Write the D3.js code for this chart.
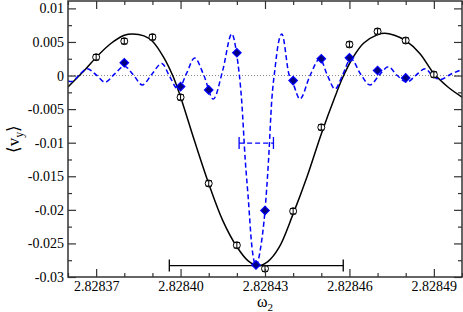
<!DOCTYPE html>
<html>
<head>
<meta charset="utf-8">
<script src="https://cdn.jsdelivr.net/npm/d3@7"></script>
<style>
  body { margin: 0; background: #fff; }
  svg, text { font-family: "Liberation Serif", "Times New Roman", serif; }
</style>
</head>
<body>
<svg id="chart" width="463" height="312"></svg>
<script>
// measured points, black open circles
var simX = [2.82837, 2.82838, 2.82839, 2.82840, 2.82841, 2.82842, 2.82843,
            2.82844, 2.82845, 2.82846, 2.82847, 2.82848, 2.82849];
var simY = [0.00273, 0.00512, 0.00572, -0.00324, -0.01607, -0.02527, -0.02876,
            -0.0202, -0.00771, 0.00463, 0.00657, 0.00522, 0.00015];
var simErr = [0.0004, 0.0004, 0.0004, 0.0004, 0.0004, 0.0004, 0.0004,
              0.0004, 0.0004, 0.0004, 0.0004, 0.0004, 0.0004];

// blue filled points
var dotX = [2.82838, 2.82840, 2.82841, 2.82842, 2.8284268, 2.82843,
            2.82844, 2.82845, 2.82846, 2.82847, 2.82848];
var dotY = [0.0019, -0.00164, -0.00214, 0.00339, -0.0282, -0.0201,
            -0.00075, 0.0025, 0.00264, 0.00075, -0.00035];

// black solid curve
var fitX = [2.8283600, 2.8283650, 2.8283700, 2.8283750, 2.8283800, 2.8283830, 2.8283870,
            2.8283900, 2.8283940, 2.8283975, 2.8284000, 2.8284050, 2.8284100, 2.8284150,
            2.8284200, 2.8284240, 2.8284275, 2.8284310, 2.8284350, 2.8284400, 2.8284450,
            2.8284500, 2.8284550, 2.8284575, 2.8284610, 2.8284650, 2.8284700, 2.8284725,
            2.8284760, 2.8284800, 2.8284850, 2.8284900, 2.8284950, 2.8285000];
var fitY = [-0.0017, 0.0004, 0.0027, 0.0047, 0.0060, 0.0062, 0.0059,
            0.0051, 0.0027, -0.0003, -0.0032, -0.0098, -0.0161, -0.0216,
            -0.0255, -0.0276, -0.0283, -0.0277, -0.0256, -0.0206, -0.0150,
            -0.0087, -0.0030, -0.0004, 0.0025, 0.0048, 0.0061, 0.0063,
            0.0060, 0.0052, 0.0033, 0.0003, -0.0017, -0.0032];

// blue dashed curve
var oscX = [2.8283600, 2.8283612, 2.8283640, 2.8283668, 2.8283700, 2.8283732, 2.8283765,
            2.8283800, 2.8283832, 2.8283864, 2.8283898, 2.8283933, 2.8283962, 2.8283992,
            2.8284020, 2.8284050, 2.8284083, 2.8284116, 2.8284150, 2.8284182, 2.8284200,
            2.8284217, 2.8284230, 2.8284240, 2.8284253, 2.8284268, 2.8284285, 2.8284300,
            2.8284312, 2.8284324, 2.8284336, 2.8284347, 2.8284360, 2.8284385, 2.8284400,
            2.8284424, 2.8284460, 2.8284495, 2.8284522, 2.8284549, 2.8284575, 2.8284605,
            2.8284640, 2.8284673, 2.8284705, 2.8284738, 2.8284770, 2.8284804, 2.8284835,
            2.8284869, 2.8284895, 2.8284922, 2.8284960, 2.8285000];
var oscY = [-0.0008, -0.0009, 0.0001, 0.0010, 0.0001, -0.0010, 0.0002,
            0.0014, 0.0001, -0.0014, 0.0002, 0.0018, -0.0002, -0.0021,
            0.0002, 0.0026, 0.0000, -0.0035, 0.0008, 0.0062, 0.0030,
            -0.0037, -0.0127, -0.0180, -0.0253, -0.0283, -0.0255, -0.0201,
            -0.0130, -0.0037, 0.0012, 0.0047, 0.0062, 0.0002, -0.0012,
            -0.0035, 0.0000, 0.0025, 0.0000, -0.0020, 0.0000, 0.0025,
            0.0002, -0.0014, 0.0000, 0.0013, 0.0000, -0.0010, 0.0000,
            0.0010, 0.0000, -0.0006, 0.0002, 0.0009];

// horizontal error bars: [black, blue]
var barX = [2.8284269, 2.8284269];
var barY = [-0.0283, -0.01005];
var barErr = [0.0000309, 0.0000061];

var xMajor = [2.82837, 2.82840, 2.82843, 2.82846, 2.82849];
var xMinor = [2.82836, 2.82838, 2.82839, 2.82841, 2.82842, 2.82844,
              2.82845, 2.82847, 2.82848, 2.82850];
var yMajor = [-0.03, -0.025, -0.02, -0.015, -0.01, -0.005, 0, 0.005, 0.01];
var yMinor = [-0.0275, -0.0225, -0.0175, -0.0125, -0.0075, -0.0025,
              0.0025, 0.0075];

var plotL = 68, plotR = 462, plotT = 1, plotB = 277;

var svg = d3.select('#chart');

var x = d3.scaleLinear().domain([2.82836, 2.82850]).range([plotL, plotR]);
var y = d3.scaleLinear().domain([-0.03, 0.0111]).range([plotB, plotT]);

svg.append('clipPath').attr('id', 'plot-clip')
  .append('rect')
    .attr('x', plotL).attr('y', plotT)
    .attr('width', plotR - plotL).attr('height', plotB - plotT);

// zero line
svg.append('line')
  .attr('x1', plotL).attr('x2', plotR)
  .attr('y1', y(0)).attr('y2', y(0))
  .attr('stroke', '#888')
  .attr('stroke-width', 1)
  .attr('stroke-dasharray', '1,2');

var plot = svg.append('g').attr('clip-path', 'url(#plot-clip)');

// black curve
plot.append('path')
  .datum(d3.range(fitX.length))
  .attr('fill', 'none')
  .attr('stroke', '#000')
  .attr('stroke-width', 1.5)
  .attr('d', d3.line()
    .x(function(i) { return x(fitX[i]); })
    .y(function(i) { return y(fitY[i]); })
    .curve(d3.curveCatmullRom.alpha(0.5)));

// blue dashed curve
plot.append('path')
  .datum(d3.range(oscX.length))
  .attr('fill', 'none')
  .attr('stroke', '#0000ff')
  .attr('stroke-width', 1.5)
  .attr('stroke-dasharray', '5,3')
  .attr('d', d3.line()
    .x(function(i) { return x(oscX[i]); })
    .y(function(i) { return y(oscY[i]); })
    .curve(d3.curveMonotoneX));

// horizontal error bars
var barColor = ['#000', '#0000ff'];
var barDash = [null, '5,3'];
barX.forEach(function(cx, i) {
  var g = svg.append('g')
    .attr('stroke', barColor[i])
    .attr('stroke-width', 1.3);
  g.append('line')
    .attr('x1', x(cx - barErr[i])).attr('x2', x(cx + barErr[i]))
    .attr('y1', y(barY[i])).attr('y2', y(barY[i]))
    .attr('stroke-dasharray', barDash[i]);
  [cx - barErr[i], cx + barErr[i]].forEach(function(e) {
    g.append('line')
      .attr('x1', x(e)).attr('x2', x(e))
      .attr('y1', y(barY[i]) - 6).attr('y2', y(barY[i]) + 6);
  });
});

// black open circles with small error bars
var sims = svg.append('g').selectAll('g')
  .data(d3.range(simX.length))
  .join('g')
    .attr('stroke', '#000')
    .attr('stroke-width', 1);
sims.append('circle')
  .attr('cx', function(i) { return x(simX[i]); })
  .attr('cy', function(i) { return y(simY[i]); })
  .attr('r', 3.5)
  .attr('fill', '#fff');
sims.append('line')
  .attr('x1', function(i) { return x(simX[i]); })
  .attr('x2', function(i) { return x(simX[i]); })
  .attr('y1', function(i) { return y(simY[i] - simErr[i]); })
  .attr('y2', function(i) { return y(simY[i] + simErr[i]); });
sims.append('line')
  .attr('x1', function(i) { return x(simX[i]) - 3; })
  .attr('x2', function(i) { return x(simX[i]) + 3; })
  .attr('y1', function(i) { return y(simY[i] + simErr[i]); })
  .attr('y2', function(i) { return y(simY[i] + simErr[i]); });
sims.append('line')
  .attr('x1', function(i) { return x(simX[i]) - 3; })
  .attr('x2', function(i) { return x(simX[i]) + 3; })
  .attr('y1', function(i) { return y(simY[i] - simErr[i]); })
  .attr('y2', function(i) { return y(simY[i] - simErr[i]); });

// blue filled points (square turned 45deg)
svg.append('g').selectAll('path')
  .data(d3.range(dotX.length))
  .join('path')
    .attr('transform', function(i) {
      return 'translate(' + x(dotX[i]) + ',' + y(dotY[i]) + ') rotate(45)';
    })
    .attr('d', d3.symbol(d3.symbolSquare, 36))
    .attr('fill', '#000080')
    .attr('stroke', '#0000ff')
    .attr('stroke-width', 1.2);

// axes
function styleAxis(g) {
  g.attr('font-family', null);
  g.select('.domain').remove();
  g.selectAll('.tick line').attr('stroke', '#333').attr('stroke-width', 1.2);
  g.selectAll('text')
    .attr('font-size', 14)
    .attr('fill', '#000')
    .attr('font-family', '"Liberation Serif", "Times New Roman", serif');
}

svg.append('g')
  .attr('transform', 'translate(0,' + plotB + ')')
  .call(d3.axisBottom(x).tickValues(xMajor).tickSize(-8).tickPadding(4)
    .tickFormat(d3.format('.5f')))
  .call(styleAxis);
svg.append('g')
  .attr('transform', 'translate(0,' + plotB + ')')
  .call(d3.axisBottom(x).tickValues(xMinor).tickSize(-4).tickFormat(''))
  .call(styleAxis);
svg.append('g')
  .attr('transform', 'translate(0,' + plotT + ')')
  .call(d3.axisTop(x).tickValues(xMajor).tickSize(-8).tickFormat(''))
  .call(styleAxis);
svg.append('g')
  .attr('transform', 'translate(0,' + plotT + ')')
  .call(d3.axisTop(x).tickValues(xMinor).tickSize(-4).tickFormat(''))
  .call(styleAxis);

svg.append('g')
  .attr('transform', 'translate(' + plotL + ',0)')
  .call(d3.axisLeft(y).tickValues(yMajor).tickSize(-8).tickPadding(4)
    .tickFormat(function(d) { return String(+d.toFixed(3)); }))
  .call(styleAxis);
svg.append('g')
  .attr('transform', 'translate(' + plotL + ',0)')
  .call(d3.axisLeft(y).tickValues(yMinor).tickSize(-4).tickFormat(''))
  .call(styleAxis);
svg.append('g')
  .attr('transform', 'translate(' + plotR + ',0)')
  .call(d3.axisRight(y).tickValues(yMajor).tickSize(-8).tickFormat(''))
  .call(styleAxis);
svg.append('g')
  .attr('transform', 'translate(' + plotR + ',0)')
  .call(d3.axisRight(y).tickValues(yMinor).tickSize(-4).tickFormat(''))
  .call(styleAxis);

// frame
svg.append('rect')
  .attr('x', plotL).attr('y', plotT)
  .attr('width', plotR - plotL).attr('height', plotB - plotT)
  .attr('fill', 'none')
  .attr('stroke', '#333')
  .attr('stroke-width', 1.5);

// axis titles
var xt = svg.append('text')
  .attr('x', 265).attr('y', 307)
  .attr('text-anchor', 'middle')
  .attr('font-size', 16);
xt.append('tspan').text('ω');
xt.append('tspan').attr('font-size', 11).attr('dy', 4).text('2');

var yt = svg.append('text')
  .attr('transform', 'translate(19,139) rotate(-90)')
  .attr('text-anchor', 'middle')
  .attr('font-size', 17);
yt.append('tspan').text('⟨v');
yt.append('tspan').attr('font-size', 12).attr('dy', 4).text('y');
yt.append('tspan').attr('dy', -4).text('⟩');
</script>
</body>
</html>
